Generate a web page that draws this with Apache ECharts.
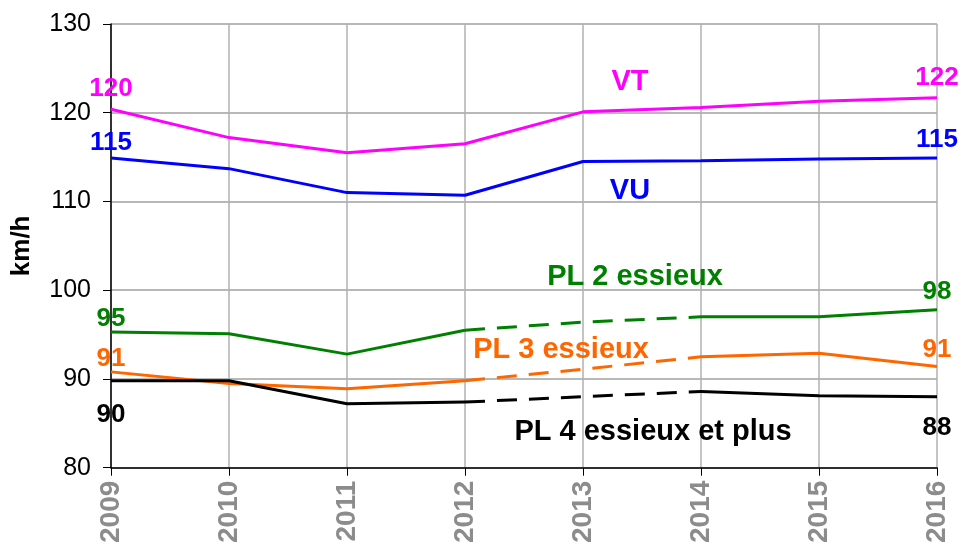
<!DOCTYPE html>
<html>
<head>
<meta charset="utf-8">
<script src="https://cdn.jsdelivr.net/npm/echarts@6/dist/echarts.min.js"></script>
<style>
html, body { margin: 0; padding: 0; background: #fff; }
#main { width: 960px; height: 546px; }
</style>
</head>
<body>
<div id="main"></div>
<script>
// vitesses moyennes (km/h) par annee
var annees = ['2009', '2010', '2011', '2012', '2013', '2014', '2015', '2016'];
var vt  = [120.4, 117.2, 115.5, 116.5, 120.1, 120.6, 121.3, 121.7];
var vu  = [114.9, 113.7, 111.0, 110.7, 114.5, 114.6, 114.8, 114.9];
var pl2 = [95.3, 95.1, 92.8, 95.5, 96.4, 97.0, 97.0, 97.8];
var pl3 = [90.8, 89.5, 88.9, 89.8, 91.1, 92.5, 92.9, 91.4];
var pl4 = [89.8, 89.8, 87.2, 87.4, 88.0, 88.6, 88.1, 88.0];
// 2013 : valeurs estimees, trait en pointilles de 2012 a 2014
var debutPointille = 3, finPointille = 5;

var police = 'Liberation Sans, Arial, sans-serif';

// label du premier et du dernier point (dist = [debut, fin])
function avecLabels(valeurs, couleur, pos, dist) {
    var dernier = valeurs.length - 1;
    return valeurs.map(function (v, i) {
        if (i != 0 && i != dernier) return v;
        return {
            value: v,
            label: {
                show: true, position: pos, distance: i == 0 ? dist[0] : dist[1],
                formatter: function (p) { return Math.round(p.value); },
                color: couleur, fontWeight: 'bold', fontSize: 26, fontFamily: police
            }
        };
    });
}
function partieSolide(valeurs) {
    return valeurs.map(function (v, i) { return (i > debutPointille && i < finPointille) ? null : v; });
}
function partiePointillee(valeurs) {
    return valeurs.map(function (v, i) { return (i >= debutPointille && i <= finPointille) ? v : null; });
}

function ligne(nom, valeurs, couleur, pos, dist, pointille) {
    var res = [{
        name: nom, type: 'line', symbol: 'circle', symbolSize: 0.01, z: 3,
        itemStyle: { color: couleur },
        data: avecLabels(pointille ? partieSolide(valeurs) : valeurs, couleur, pos, dist),
        lineStyle: { color: couleur, width: 3 },
        labelLayout: { hideOverlap: false }
    }];
    if (pointille) {
        res.push({
            name: nom, type: 'line', symbol: 'none', z: 3,
            data: partiePointillee(valeurs),
            lineStyle: { color: couleur, width: 3, type: [20, 12] }
        });
    }
    return res;
}

var series = [].concat(
    ligne('VT', vt, '#ff00ff', 'top', [7, 7], false),
    ligne('VU', vu, '#0000ff', 'top', [2, 5], false),
    ligne('PL 2 essieux', pl2, '#008000', 'top', [0, 5], true),
    ligne('PL 3 essieux', pl3, '#ff6600', 'top', [0, 4], true),
    ligne('PL 4 essieux et plus', pl4, '#000000', 'bottom', [21, 18], true)
);

function etiquette(texte, couleur, x, y) {
    return {
        type: 'text', x: x, y: y, z: 10,
        style: {
            text: texte, fill: couleur, font: 'bold 29px ' + police,
            textAlign: 'center', textVerticalAlign: 'middle'
        }
    };
}

var chart = echarts.init(document.getElementById('main'));
chart.setOption({
    animation: false,
    grid: { left: 111, right: 23, top: 24, bottom: 76 },
    xAxis: {
        type: 'category', data: annees, boundaryGap: false,
        axisLine: { lineStyle: { color: '#000', width: 1.5 } },
        axisTick: { show: true, alignWithLabel: true, length: 8, lineStyle: { color: '#000' } },
        axisLabel: { rotate: 90, margin: 13, color: '#8c8c8c', fontWeight: 'bold', fontSize: 28, fontFamily: police },
        splitLine: { show: true, lineStyle: { color: '#b0b0b0', width: 1.5 } }
    },
    yAxis: {
        type: 'value', min: 80, max: 130, interval: 10,
        name: 'km/h', nameLocation: 'middle', nameGap: 76, nameRotate: 90,
        nameTextStyle: { color: '#000', fontWeight: 'bold', fontSize: 26, fontFamily: police },
        axisLine: { show: true, lineStyle: { color: '#000', width: 1.5 } },
        axisTick: { show: true, length: 8, lineStyle: { color: '#000' } },
        axisLabel: { margin: 20, color: '#000', fontSize: 25, fontFamily: police },
        splitLine: { show: true, lineStyle: { color: '#a0a0a0', width: 1.5 } }
    },
    graphic: [
        etiquette('VT', '#ff00ff', 630, 82),
        etiquette('VU', '#0000ff', 630, 191),
        etiquette('PL 2 essieux', '#008000', 635, 277),
        etiquette('PL 3 essieux', '#ff6600', 561, 350),
        etiquette('PL 4 essieux et plus', '#000000', 653, 432)
    ],
    series: series
});
</script>
</body>
</html>
